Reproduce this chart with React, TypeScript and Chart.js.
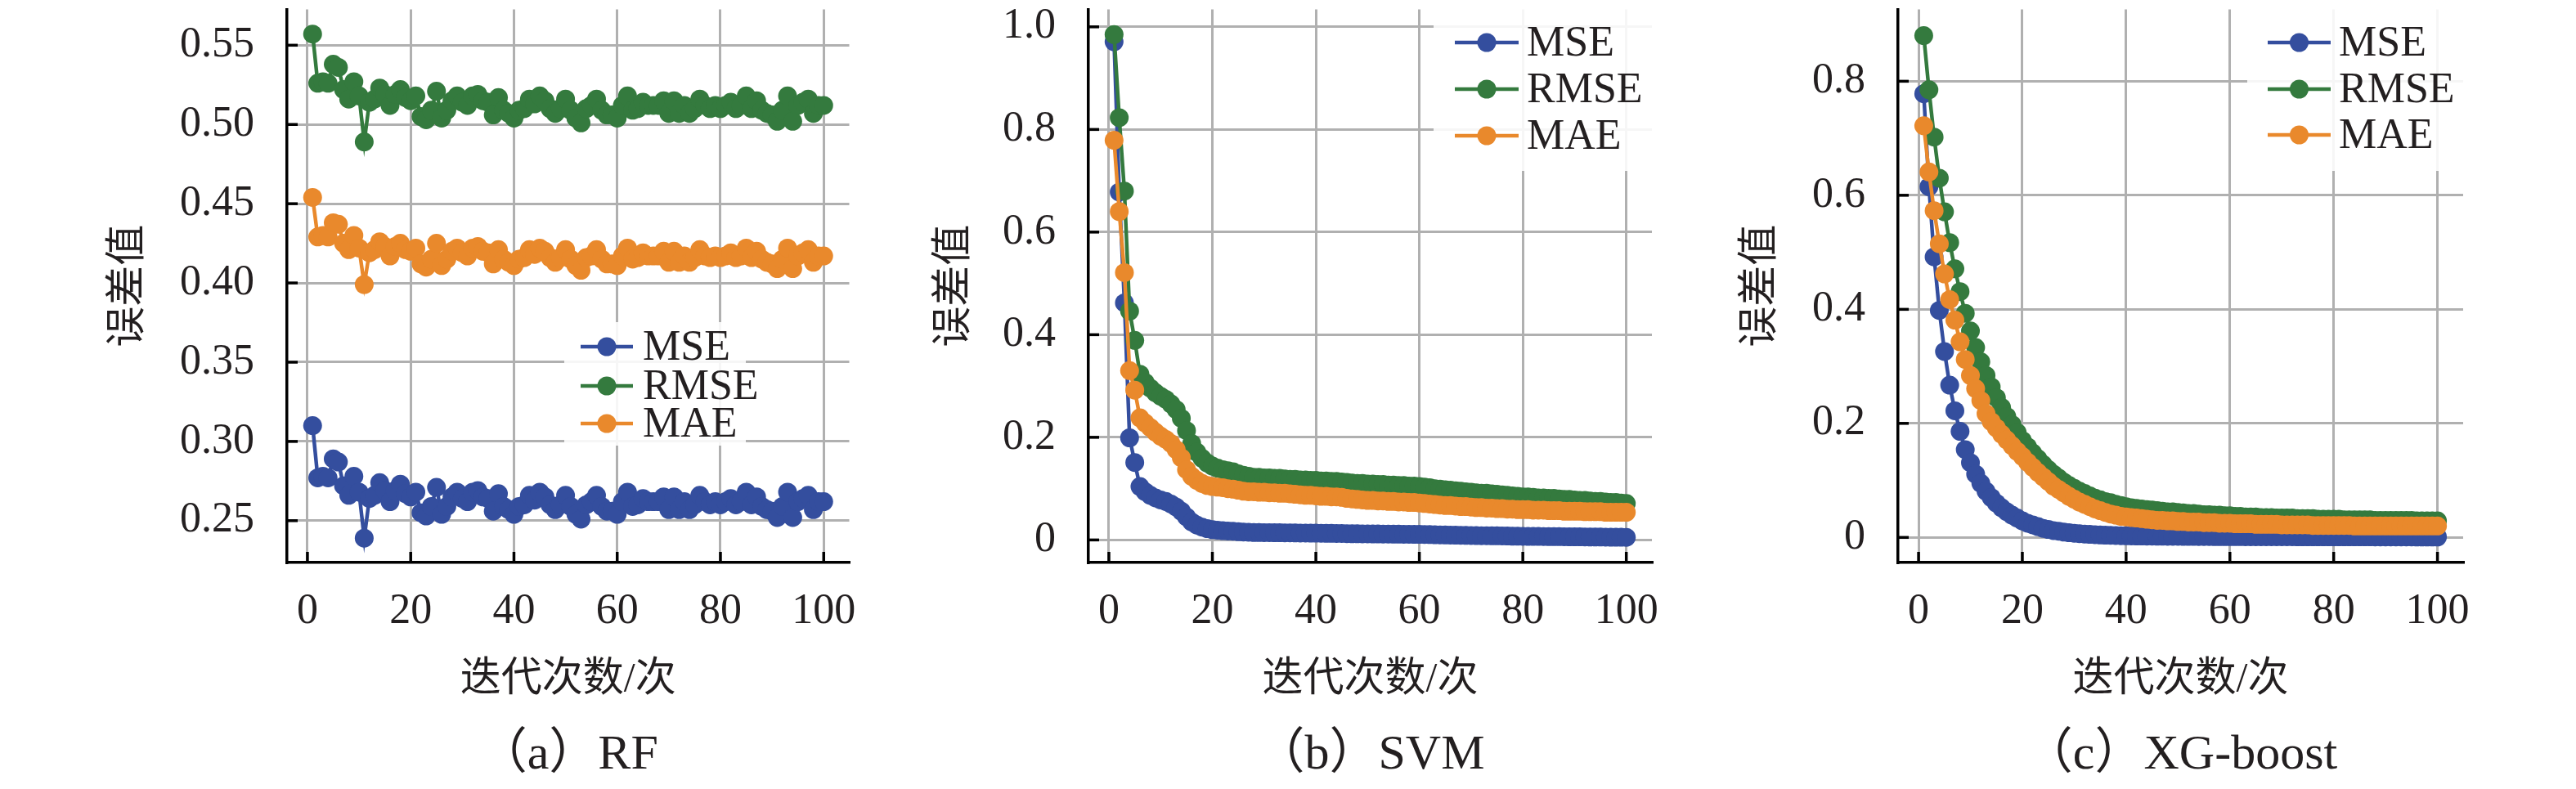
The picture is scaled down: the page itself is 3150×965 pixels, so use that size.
import React, { useEffect, useRef } from 'react';
import Chart from 'chart.js/auto';

// 迭代次数
const ITERATIONS = [
  1, 2, 3, 4, 5, 6, 7, 8, 9, 10, 11, 12, 13, 14, 15, 16, 17, 18, 19, 20,
  21, 22, 23, 24, 25, 26, 27, 28, 29, 30, 31, 32, 33, 34, 35, 36, 37, 38, 39, 40,
  41, 42, 43, 44, 45, 46, 47, 48, 49, 50, 51, 52, 53, 54, 55, 56, 57, 58, 59, 60,
  61, 62, 63, 64, 65, 66, 67, 68, 69, 70, 71, 72, 73, 74, 75, 76, 77, 78, 79, 80,
  81, 82, 83, 84, 85, 86, 87, 88, 89, 90, 91, 92, 93, 94, 95, 96, 97, 98, 99, 100,
];

const SERIES_NAMES = ['MSE', 'RMSE', 'MAE'];
const SERIES_COLORS = ['#344e9e', '#347a3e', '#e9892c'];

// (a) RF
const RF_MSE = [
  0.310, 0.277, 0.278, 0.277, 0.289, 0.287, 0.272, 0.266, 0.278, 0.268,
  0.239, 0.264, 0.266, 0.274, 0.269, 0.262, 0.269, 0.273, 0.267, 0.265,
  0.268, 0.255, 0.253, 0.259, 0.271, 0.254, 0.259, 0.265, 0.268, 0.264,
  0.262, 0.268, 0.269, 0.265, 0.264, 0.256, 0.267, 0.259, 0.257, 0.254,
  0.259, 0.260, 0.266, 0.263, 0.268, 0.265, 0.260, 0.257, 0.260, 0.266,
  0.259, 0.254, 0.251, 0.260, 0.262, 0.266, 0.259, 0.256, 0.256, 0.254,
  0.262, 0.268, 0.259, 0.260, 0.264, 0.262, 0.262, 0.262, 0.265, 0.257,
  0.265, 0.257, 0.262, 0.257, 0.260, 0.266, 0.262, 0.260, 0.262, 0.260,
  0.262, 0.264, 0.260, 0.262, 0.268, 0.260, 0.265, 0.259, 0.257, 0.256,
  0.252, 0.259, 0.268, 0.252, 0.262, 0.264, 0.266, 0.257, 0.262, 0.262,
];
const RF_RMSE = [
  0.557, 0.526, 0.527, 0.526, 0.538, 0.536, 0.522, 0.516, 0.527, 0.518,
  0.489, 0.514, 0.516, 0.523, 0.519, 0.512, 0.519, 0.522, 0.517, 0.515,
  0.518, 0.505, 0.503, 0.509, 0.521, 0.504, 0.509, 0.515, 0.518, 0.514,
  0.512, 0.518, 0.519, 0.515, 0.514, 0.506, 0.517, 0.509, 0.507, 0.504,
  0.509, 0.510, 0.516, 0.513, 0.518, 0.515, 0.510, 0.507, 0.510, 0.516,
  0.509, 0.504, 0.501, 0.510, 0.512, 0.516, 0.509, 0.506, 0.506, 0.504,
  0.512, 0.518, 0.509, 0.510, 0.514, 0.512, 0.512, 0.512, 0.515, 0.507,
  0.515, 0.507, 0.512, 0.507, 0.510, 0.516, 0.512, 0.510, 0.512, 0.510,
  0.512, 0.514, 0.510, 0.512, 0.518, 0.510, 0.515, 0.509, 0.507, 0.506,
  0.502, 0.509, 0.518, 0.502, 0.512, 0.514, 0.516, 0.507, 0.512, 0.512,
];
const RF_MAE = [
  0.454, 0.429, 0.430, 0.429, 0.438, 0.437, 0.425, 0.421, 0.430, 0.422,
  0.399, 0.419, 0.421, 0.426, 0.423, 0.417, 0.423, 0.425, 0.421, 0.420,
  0.422, 0.412, 0.410, 0.415, 0.425, 0.411, 0.415, 0.420, 0.422, 0.419,
  0.417, 0.422, 0.423, 0.420, 0.419, 0.412, 0.421, 0.415, 0.413, 0.411,
  0.415, 0.416, 0.421, 0.418, 0.422, 0.420, 0.416, 0.413, 0.416, 0.421,
  0.415, 0.411, 0.408, 0.416, 0.417, 0.421, 0.415, 0.412, 0.412, 0.411,
  0.417, 0.422, 0.415, 0.416, 0.419, 0.417, 0.417, 0.417, 0.420, 0.413,
  0.420, 0.413, 0.417, 0.413, 0.416, 0.421, 0.417, 0.416, 0.417, 0.416,
  0.417, 0.419, 0.416, 0.417, 0.422, 0.416, 0.420, 0.415, 0.413, 0.412,
  0.409, 0.415, 0.422, 0.409, 0.417, 0.419, 0.421, 0.413, 0.417, 0.417,
];

// (b) SVM
const SVM_MSE = [
  0.971, 0.678, 0.462, 0.199, 0.151, 0.104, 0.094, 0.087, 0.082, 0.078,
  0.075, 0.070, 0.064, 0.056, 0.045, 0.035, 0.029, 0.025, 0.022, 0.020,
  0.019, 0.018, 0.0175, 0.017, 0.016, 0.0155, 0.015, 0.0145, 0.0145, 0.0143,
  0.0142, 0.0141, 0.014, 0.0139, 0.0138, 0.0137, 0.0135, 0.0134, 0.0133, 0.0132,
  0.013, 0.0129, 0.0128, 0.0127, 0.0126, 0.0123, 0.0121, 0.012, 0.0119, 0.0118,
  0.0117, 0.0116, 0.0115, 0.0114, 0.0113, 0.0112, 0.0111, 0.011, 0.0109, 0.0108,
  0.0106, 0.0104, 0.0101, 0.0099, 0.0097, 0.0095, 0.0093, 0.0091, 0.0089, 0.0087,
  0.0085, 0.0083, 0.0082, 0.0081, 0.008, 0.0078, 0.0076, 0.0074, 0.0072, 0.0071,
  0.007, 0.0069, 0.0068, 0.0067, 0.0066, 0.0065, 0.0064, 0.0063, 0.0062, 0.0061,
  0.006, 0.0059, 0.0058, 0.0057, 0.0056, 0.0055, 0.0054, 0.0053, 0.0052, 0.0051,
];
const SVM_RMSE = [
  0.985, 0.823, 0.680, 0.446, 0.389, 0.323, 0.307, 0.296, 0.287, 0.280,
  0.274, 0.265, 0.254, 0.237, 0.213, 0.188, 0.171, 0.159, 0.150, 0.144,
  0.140, 0.137, 0.135, 0.133, 0.129, 0.126, 0.124, 0.122, 0.122, 0.121,
  0.121, 0.120, 0.120, 0.119, 0.118, 0.118, 0.117, 0.117, 0.116, 0.116,
  0.115, 0.115, 0.114, 0.114, 0.113, 0.112, 0.111, 0.110, 0.110, 0.109,
  0.109, 0.108, 0.108, 0.107, 0.107, 0.106, 0.106, 0.105, 0.105, 0.104,
  0.103, 0.102, 0.100, 0.099, 0.098, 0.097, 0.096, 0.095, 0.094, 0.093,
  0.092, 0.091, 0.091, 0.090, 0.089, 0.088, 0.087, 0.086, 0.085, 0.084,
  0.084, 0.083, 0.082, 0.082, 0.081, 0.081, 0.080, 0.079, 0.079, 0.078,
  0.077, 0.077, 0.076, 0.075, 0.075, 0.074, 0.073, 0.073, 0.072, 0.071,
];
const SVM_MAE = [
  0.779, 0.640, 0.521, 0.330, 0.292, 0.238, 0.228, 0.219, 0.210, 0.202,
  0.196, 0.188, 0.176, 0.160, 0.137, 0.124, 0.116, 0.110, 0.106, 0.104,
  0.103, 0.102, 0.100, 0.099, 0.097, 0.095, 0.094, 0.094, 0.093, 0.093,
  0.092, 0.092, 0.091, 0.091, 0.090, 0.089, 0.088, 0.087, 0.087, 0.086,
  0.085, 0.085, 0.084, 0.084, 0.083, 0.081, 0.080, 0.079, 0.078, 0.077,
  0.077, 0.076, 0.076, 0.075, 0.075, 0.074, 0.074, 0.073, 0.073, 0.072,
  0.071, 0.070, 0.069, 0.068, 0.067, 0.067, 0.066, 0.065, 0.065, 0.064,
  0.063, 0.063, 0.062, 0.062, 0.061, 0.061, 0.060, 0.060, 0.059, 0.059,
  0.059, 0.058, 0.058, 0.058, 0.057, 0.057, 0.057, 0.056, 0.056, 0.056,
  0.056, 0.055, 0.055, 0.055, 0.055, 0.054, 0.054, 0.054, 0.054, 0.054,
];

// (c) XG-boost
const XGB_MSE = [
  0.778, 0.615, 0.492, 0.398, 0.326, 0.267, 0.222, 0.186, 0.154, 0.131,
  0.111, 0.095, 0.081, 0.070, 0.060, 0.052, 0.045, 0.039, 0.034, 0.029,
  0.025, 0.022, 0.019, 0.016, 0.014, 0.012, 0.011, 0.0094, 0.0083, 0.0074,
  0.0066, 0.0059, 0.0053, 0.0048, 0.0044, 0.0040, 0.0037, 0.0034, 0.0031, 0.0029,
  0.0027, 0.0026, 0.0025, 0.0024, 0.0023, 0.0022, 0.0021, 0.0020, 0.0020, 0.0019,
  0.0018, 0.0018, 0.0018, 0.0017, 0.0016, 0.0016, 0.0015, 0.0015, 0.0014, 0.0014,
  0.0014, 0.0014, 0.0013, 0.0013, 0.0013, 0.0012, 0.0012, 0.0012, 0.0012, 0.0012,
  0.0012, 0.0012, 0.0011, 0.0011, 0.0011, 0.0011, 0.0010, 0.0010, 0.0010, 0.0010,
  0.0010, 0.0010, 0.0010, 0.0010, 0.0010, 0.0010, 0.0010, 0.0009, 0.0009, 0.0009,
  0.0009, 0.0009, 0.0009, 0.0009, 0.0009, 0.0008, 0.0008, 0.0008, 0.0008, 0.0008,
];
const XGB_RMSE = [
  0.880, 0.785, 0.702, 0.630, 0.571, 0.517, 0.471, 0.431, 0.393, 0.362,
  0.333, 0.308, 0.284, 0.264, 0.245, 0.228, 0.212, 0.198, 0.184, 0.170,
  0.159, 0.148, 0.138, 0.128, 0.119, 0.111, 0.104, 0.097, 0.091, 0.086,
  0.081, 0.077, 0.073, 0.069, 0.066, 0.063, 0.061, 0.058, 0.056, 0.054,
  0.052, 0.051, 0.050, 0.049, 0.048, 0.047, 0.046, 0.045, 0.045, 0.044,
  0.043, 0.042, 0.042, 0.041, 0.040, 0.040, 0.039, 0.039, 0.038, 0.038,
  0.037, 0.037, 0.036, 0.036, 0.036, 0.035, 0.035, 0.035, 0.034, 0.034,
  0.034, 0.034, 0.033, 0.033, 0.033, 0.033, 0.032, 0.032, 0.032, 0.032,
  0.032, 0.031, 0.031, 0.031, 0.031, 0.031, 0.031, 0.030, 0.030, 0.030,
  0.030, 0.030, 0.030, 0.030, 0.030, 0.029, 0.029, 0.029, 0.029, 0.029,
];
const XGB_MAE = [
  0.722, 0.641, 0.573, 0.515, 0.462, 0.417, 0.381, 0.343, 0.312, 0.284,
  0.261, 0.240, 0.217, 0.203, 0.192, 0.181, 0.171, 0.161, 0.151, 0.142,
  0.132, 0.123, 0.114, 0.106, 0.098, 0.090, 0.084, 0.078, 0.072, 0.067,
  0.062, 0.058, 0.054, 0.050, 0.047, 0.044, 0.041, 0.039, 0.037, 0.036,
  0.035, 0.034, 0.033, 0.032, 0.031, 0.030, 0.030, 0.029, 0.029, 0.028,
  0.028, 0.027, 0.027, 0.027, 0.026, 0.026, 0.026, 0.025, 0.025, 0.025,
  0.024, 0.024, 0.024, 0.024, 0.023, 0.023, 0.023, 0.023, 0.023, 0.022,
  0.022, 0.022, 0.022, 0.022, 0.022, 0.021, 0.021, 0.021, 0.021, 0.021,
  0.021, 0.021, 0.021, 0.020, 0.020, 0.020, 0.020, 0.020, 0.020, 0.020,
  0.020, 0.020, 0.020, 0.020, 0.020, 0.020, 0.020, 0.020, 0.020, 0.020,
];

const X_TICKS = [0, 20, 40, 60, 80, 100];
const RF_Y_TICKS = [0.25, 0.3, 0.35, 0.4, 0.45, 0.5, 0.55];
const RF_Y_LABELS = ['0.25', '0.30', '0.35', '0.40', '0.45', '0.50', '0.55'];
const SVM_Y_TICKS = [0, 0.2, 0.4, 0.6, 0.8, 1.0];
const SVM_Y_LABELS = ['0', '0.2', '0.4', '0.6', '0.8', '1.0'];
const XGB_Y_TICKS = [0, 0.2, 0.4, 0.6, 0.8];
const XGB_Y_LABELS = ['0', '0.2', '0.4', '0.6', '0.8'];

const FONT = '"Liberation Serif", "Noto Sans CJK SC", serif';
const TEXT = '#231f20';
const GRID = '#b0b0b0';

interface LegendLayout {
  box: [number, number, number, number];
  lineX: [number, number];
  textX: number;
  rows: number[];
}

interface PanelProps {
  left: number;
  title: string;
  series: number[][];
  yMin: number;
  yMax: number;
  yTicks: number[];
  yLabels: string[];
  plotLeft: number;
  padRight: number;
  yTitleCenter: number;
  legend: LegendLayout;
}

function Panel({ left, title, series, yMin, yMax, yTicks, yLabels, plotLeft, padRight, yTitleCenter, legend }: PanelProps) {
  const canvasRef = useRef<HTMLCanvasElement>(null);

  useEffect(() => {
    if (!canvasRef.current) return;
    const ctx = canvasRef.current.getContext('2d');
    if (!ctx) return;

    // 内向刻度 + 图例
    const decor = {
      id: 'decor',
      afterDraw(chart: any) {
        const c = chart.ctx;
        const xs = chart.scales.x;
        const ys = chart.scales.y;
        const area = chart.chartArea;
        c.save();
        c.strokeStyle = '#000';
        c.lineWidth = 3.5;
        X_TICKS.forEach((v) => {
          const px = xs.getPixelForValue(v);
          c.beginPath();
          c.moveTo(px, area.bottom);
          c.lineTo(px, area.bottom - 13);
          c.stroke();
        });
        yTicks.forEach((v) => {
          const py = ys.getPixelForValue(v);
          c.beginPath();
          c.moveTo(area.left, py);
          c.lineTo(area.left + 13, py);
          c.stroke();
        });

        const [bx0, by0, bx1, by1] = legend.box;
        c.fillStyle = 'rgba(255,255,255,0.88)';
        c.fillRect(bx0, by0, bx1 - bx0, by1 - by0);
        SERIES_NAMES.forEach((name, k) => {
          const y = legend.rows[k];
          c.strokeStyle = SERIES_COLORS[k];
          c.lineWidth = 4.5;
          c.beginPath();
          c.moveTo(legend.lineX[0], y);
          c.lineTo(legend.lineX[1], y);
          c.stroke();
          c.fillStyle = SERIES_COLORS[k];
          c.beginPath();
          c.arc((legend.lineX[0] + legend.lineX[1]) / 2, y, 11.5, 0, Math.PI * 2);
          c.fill();
          c.fillStyle = TEXT;
          c.font = `52px ${FONT}`;
          c.textAlign = 'left';
          c.textBaseline = 'middle';
          c.fillText(name, legend.textX, y + 2);
        });
        c.restore();
      },
    };

    const chart = new Chart(ctx, {
      type: 'line',
      data: {
        datasets: SERIES_NAMES.map((name, k) => ({
          label: name,
          data: ITERATIONS.map((x, i) => ({ x, y: series[k][i] })),
          borderColor: SERIES_COLORS[k],
          backgroundColor: SERIES_COLORS[k],
          pointBackgroundColor: SERIES_COLORS[k],
          pointBorderWidth: 0,
          pointRadius: 11.5,
          borderWidth: 4.5,
          tension: 0,
          order: 2 - k,
        })),
      },
      options: {
        animation: false,
        responsive: false,
        devicePixelRatio: 1,
        layout: { padding: { top: 4, left: 0, right: padRight, bottom: 0 } },
        plugins: {
          legend: { display: false },
          tooltip: { enabled: false },
          title: {
            display: true,
            text: title,
            position: 'bottom',
            fullSize: false,
            color: TEXT,
            font: { family: FONT, size: 60, weight: 'normal' },
            padding: { top: 0, bottom: 5 },
          },
        },
        scales: {
          x: {
            type: 'linear',
            min: -3.95,
            max: 104.95,
            afterBuildTicks: (scale: any) => {
              scale.ticks = X_TICKS.map((v) => ({ value: v }));
            },
            afterFit: (scale: any) => {
              scale.height = 200;
              scale.paddingLeft = 0;
              scale.paddingRight = 0;
            },
            ticks: {
              padding: 29,
              color: TEXT,
              font: { family: FONT, size: 52 },
              maxRotation: 0,
              autoSkip: false,
              callback: (v: any) => String(v),
            },
            grid: { color: GRID, lineWidth: 3, drawTicks: false },
            border: { display: true, color: '#000', width: 3.5 },
            title: {
              display: true,
              text: '迭代次数/次',
              color: TEXT,
              font: { family: FONT, size: 50 },
              padding: { top: 0, bottom: 26 },
            },
          },
          y: {
            min: yMin,
            max: yMax,
            afterBuildTicks: (scale: any) => {
              scale.ticks = yTicks.map((v) => ({ value: v }));
            },
            afterFit: (scale: any) => {
              scale.width = plotLeft;
              scale.paddingTop = 0;
              scale.paddingBottom = 0;
            },
            ticks: {
              padding: 40,
              color: TEXT,
              font: { family: FONT, size: 52 },
              callback: (_v: any, i: number) => yLabels[i],
            },
            grid: { color: GRID, lineWidth: 3, drawTicks: false },
            border: { display: true, color: '#000', width: 3.5 },
            title: {
              display: true,
              text: '误差值',
              color: TEXT,
              font: { family: FONT, size: 50 },
              padding: { top: yTitleCenter - 30, bottom: 0 },
            },
          },
        },
      },
      plugins: [decor],
    });

    return () => {
      chart.destroy();
    };
  }, [title, series, yMin, yMax, yTicks, yLabels, plotLeft, padRight, yTitleCenter, legend]);

  return (
    <canvas
      ref={canvasRef}
      width={1050}
      height={965}
      style={{ position: 'absolute', left, top: 0, width: 1050, height: 965, display: 'block' }}
    />
  );
}

export default function App() {
  return (
    <div style={{ position: 'absolute', left: 0, top: 0, width: 3150, height: 965, background: '#fff' }}>
      <Panel
        left={0}
        title="（a）RF"
        series={[RF_MSE, RF_RMSE, RF_MAE]}
        yMin={0.2236}
        yMax={0.5726}
        yTicks={RF_Y_TICKS}
        yLabels={RF_Y_LABELS}
        plotLeft={351}
        padRight={10}
        yTitleCenter={158}
        legend={{ box: [690, 394, 912, 545], lineX: [710, 774], textX: 786, rows: [424, 472, 518] }}
      />
      <Panel
        left={1050}
        title="（b）SVM"
        series={[SVM_MSE, SVM_RMSE, SVM_MAE]}
        yMin={-0.044}
        yMax={1.034}
        yTicks={SVM_Y_TICKS}
        yLabels={SVM_Y_LABELS}
        plotLeft={281}
        padRight={80}
        yTitleCenter={118}
        legend={{ box: [703, 4, 970, 209], lineX: [729, 807], textX: 817, rows: [52, 109, 166] }}
      />
      <Panel
        left={2100}
        title="（c）XG-boost"
        series={[XGB_MSE, XGB_RMSE, XGB_MAE]}
        yMin={-0.044}
        yMax={0.926}
        yTicks={XGB_Y_TICKS}
        yLabels={XGB_Y_LABELS}
        plotLeft={221}
        padRight={138}
        yTitleCenter={54}
        legend={{ box: [648, 4, 912, 209], lineX: [673, 750], textX: 760, rows: [52, 109, 165] }}
      />
    </div>
  );
}
